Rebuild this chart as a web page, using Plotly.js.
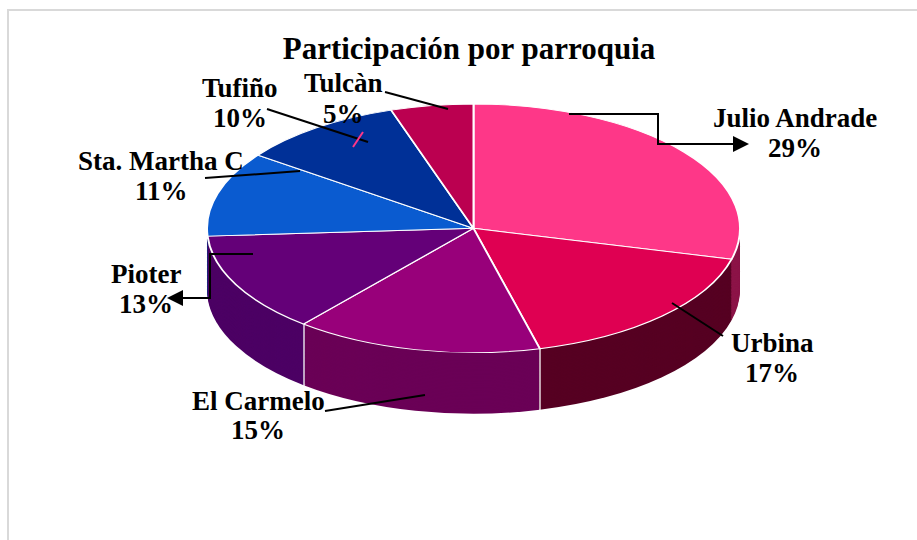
<!DOCTYPE html>
<html>
<head>
<meta charset="utf-8">
<script src="https://cdn.plot.ly/plotly-3.0.1.min.js"></script>
<style>
  html, body { margin:0; padding:0; width:917px; height:540px; overflow:hidden; background:#fff; }
  #frame { position:absolute; left:7px; top:9px; width:1000px; height:1000px; border:2px solid #d9d9d9; box-sizing:border-box; }
  #pie { position:absolute; left:0; top:0; width:917px; height:900px; transform:scaleY(0.4664); transform-origin:0 0; }
  #ov { position:absolute; left:0; top:0; width:917px; height:540px; }
</style>
</head>
<body>
<div id="frame"></div>
<div id="pie"></div>
<div id="ov"></div>
<script>
// ---- data ----
const categories = ['Julio Andrade', 'Urbina', 'El Carmelo', 'Pioter', 'Sta. Martha C', 'Tufiño', 'Tulcàn'];
const shares = [29, 17, 15, 13, 11, 10, 5];
const chartTitle = 'Participación por parroquia';

// ---- styles ----
const topColors  = ['#FE3788', '#DF0052', '#98007A', '#640078', '#0A5BD0', '#003097', '#BB0050'];
const sideColors = ['#8C1448', '#560022', '#6A0056', '#4C0064', '#04398A', '#001F66', '#7A0034'];
const FONT = 'Liberation Serif';

// ---- pseudo-3D pie: stacked pie layers, squashed by CSS ----
const H = 900, W = 917;
const cx = 473.5, cyU = 489.5, R = 266.5, depthU = 131, layers = 44;
function domainFor(d) {
  const yc = (H - cyU - d) / H, hh = R / H;
  return { x: [(cx - R) / W, (cx + R) / W], y: [yc - hh, yc + hh] };
}
const pieTraces = [];
for (let i = layers; i >= 1; i--) {
  pieTraces.push({
    type: 'pie', labels: categories, values: shares, sort: false,
    direction: 'clockwise', rotation: 0, textinfo: 'none', hoverinfo: 'skip',
    marker: { colors: sideColors, line: { width: 0 } },
    domain: domainFor(depthU * i / layers), showlegend: false
  });
}
pieTraces.push({
  type: 'pie', labels: categories, values: shares, sort: false,
  direction: 'clockwise', rotation: 0, textinfo: 'none', hoverinfo: 'skip',
  marker: { colors: topColors, line: { color: '#ffffff', width: 2 } },
  domain: domainFor(0), showlegend: false
});
Plotly.newPlot('pie', pieTraces, {
  width: W, height: H, margin: { l: 0, r: 0, t: 0, b: 0 },
  paper_bgcolor: 'rgba(0,0,0,0)', plot_bgcolor: 'rgba(0,0,0,0)', showlegend: false
}, { staticPlot: true });

// ---- overlay: title, labels, leader lines ----
const labelPos = [
  { x: 795, yName: 118, yPct: 148 },
  { x: 772, yName: 343, yPct: 373 },
  { x: 258, yName: 401, yPct: 430 },
  { x: 146, yName: 274, yPct: 304 },
  { x: 161, yName: 161, yPct: 191 },
  { x: 240, yName: 88,  yPct: 118 },
  { x: 343, yName: 83,  yPct: 114 }
];
const annotations = [];
categories.forEach((c, i) => {
  const p = labelPos[i];
  annotations.push({ x: p.x, y: p.yName, xref: 'x', yref: 'y', text: c, showarrow: false,
    xanchor: 'center', yanchor: 'middle', font: { family: FONT, size: 27, color: '#000', weight: 'bold' } });
  annotations.push({ x: p.x, y: p.yPct, xref: 'x', yref: 'y', text: shares[i] + '%', showarrow: false,
    xanchor: 'center', yanchor: 'middle', font: { family: FONT, size: 27, color: '#000', weight: 'bold' } });
});
const ln = { color: '#000', width: 2 };
const edge = { color: 'rgba(255,255,255,0.85)', width: 1.5 };
const shapes = [
  { type: 'line', xref: 'x', yref: 'y', x0: 540, y0: 349, x1: 540, y1: 410, line: edge },
  { type: 'line', xref: 'x', yref: 'y', x0: 304, y0: 325, x1: 304, y1: 386, line: edge },
  { type: 'path', xref: 'x', yref: 'y', path: 'M569,114 H658 V144 H736', line: ln },
  { type: 'path', xref: 'x', yref: 'y', path: 'M749,144 L733,136 L733,152 Z', fillcolor: '#000', line: { width: 0 } },
  { type: 'path', xref: 'x', yref: 'y', path: 'M253,254 H210 V298 H180', line: ln },
  { type: 'path', xref: 'x', yref: 'y', path: 'M167,298 L183,290 L183,306 Z', fillcolor: '#000', line: { width: 0 } },
  { type: 'line', xref: 'x', yref: 'y', x0: 672, y0: 303, x1: 723, y1: 336, line: ln },
  { type: 'line', xref: 'x', yref: 'y', x0: 325, y0: 411, x1: 425, y1: 395, line: ln },
  { type: 'line', xref: 'x', yref: 'y', x0: 205, y0: 178, x1: 300, y1: 171, line: ln },
  { type: 'line', xref: 'x', yref: 'y', x0: 267, y0: 109, x1: 368, y1: 142, line: ln },
  { type: 'line', xref: 'x', yref: 'y', x0: 385, y0: 92, x1: 448, y1: 109, line: ln },
  { type: 'line', xref: 'x', yref: 'y', x0: 353, y0: 147, x1: 363, y1: 132, line: { color: '#FE3788', width: 2 } }
];
Plotly.newPlot('ov', [], {
  width: 917, height: 540, margin: { l: 0, r: 0, t: 0, b: 0 },
  paper_bgcolor: 'rgba(0,0,0,0)', plot_bgcolor: 'rgba(0,0,0,0)',
  title: { text: chartTitle, font: { family: FONT, size: 31, color: '#000', weight: 'bold' },
    x: 469 / 917, xanchor: 'center', xref: 'paper', y: 1 - 48 / 540, yanchor: 'middle', yref: 'container' },
  xaxis: { range: [0, 917], visible: false, fixedrange: true },
  yaxis: { range: [540, 0], visible: false, fixedrange: true },
  annotations: annotations, shapes: shapes, showlegend: false
}, { staticPlot: true });
</script>
</body>
</html>
